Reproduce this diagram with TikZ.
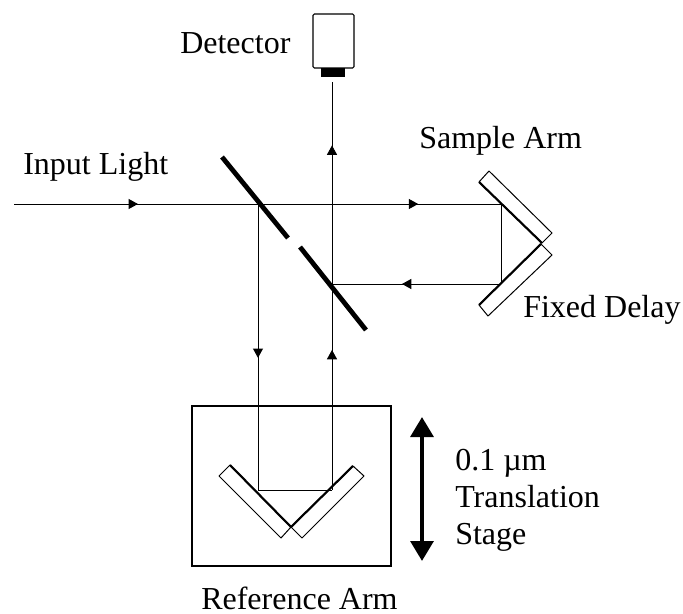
\documentclass[tikz,border=0pt]{standalone}
\usepackage{fontspec}
\setmainfont{Liberation Serif}
\usetikzlibrary{arrows.meta, decorations.markings}
\tikzset{
    beam/.style={line width=0.7pt},
    beamhead/.style={beam, postaction={decorate}, decoration={markings, mark=at position #1 with {\arrow{Stealth[length=7pt,width=7.5pt,inset=0pt]}}}},
    splitter/.style={line width=3.6pt},
    mirror/.style={line width=0.75pt, line join=round, fill=white},
    mirrorface/.style={line width=1.6pt},
    label/.style={font=\fontsize{24}{28}\selectfont, inner sep=0pt, anchor=base west}
}
\begin{document}
\begin{tikzpicture}[x=0.75pt, y=-0.75pt]
    \useasboundingbox (0,0) rectangle (683,614);

    % beam points
    \coordinate (in) at (14,204);
    \coordinate (bs) at (258,204);
    \coordinate (cross) at (332,204);
    \coordinate (sa) at (501,204);
    \coordinate (sb) at (501,284);
    \coordinate (bt) at (332,284);
    \coordinate (ra) at (258,490);
    \coordinate (rb) at (332,490);
    \coordinate (det) at (332,82);

    % translation stage
    \draw[line width=0.8pt] (192,406) rectangle (391,566);

    % mirrors
    \draw[mirror] (489,171) -- (479,182) -- (542,243) -- (552,233) -- cycle;
    \draw[mirror] (541,244) -- (552,255) -- (488,316) -- (479,305) -- cycle;
    \draw[mirrorface] (479,182) -- (542,243);
    \draw[mirrorface] (541,244) -- (479,305);
    \draw[mirror] (230,465) -- (219,476) -- (281,538) -- (291,527) -- cycle;
    \draw[mirror] (353,466) -- (364,476) -- (302,538) -- (291,527) -- cycle;
    \draw[mirrorface] (230,465) -- (291,527);
    \draw[mirrorface] (353,466) -- (291,527);

    % beams
    \draw[beamhead=0.508] (in) -- (bs);
    \draw[beamhead=0.51] (cross) -- (sa);
    \draw[beam] (bs) -- (cross);
    \draw[beam] (sa) -- (sb);
    \draw[beamhead=0.586] (sb) -- (bt);
    \draw[beamhead=0.538] (bs) -- (ra);
    \draw[beam] (ra) -- (rb);
    \draw[beamhead=0.68] (rb) -- (bt);
    \draw[beam] (bt) -- (cross);
    \draw[beamhead=0.48] (cross) -- (det);

    % beam splitter
    \draw[splitter] (222,157) -- (288,238);
    \draw[splitter] (300,247) -- (366,330);

    % detector
    \draw[line width=0.8pt, rounded corners=1pt] (313,14) rectangle (354,68);
    \fill (321,68) rectangle (345,77);

    % stage travel
    \coordinate (up) at (422,417);
    \coordinate (down) at (422,561);
    \draw[{Stealth[length=15pt,width=17pt,inset=0pt]}-{Stealth[length=15pt,width=17pt,inset=0pt]}, line width=3.2pt] (up) -- (down);

    % labels
    \node[label] (detector) at (180,53) {Detector};
    \node[label] (input) at (23,174) {Input Light};
    \node[label] (sample) at (419,148) {Sample Arm};
    \node[label] (fixed) at (523,317) {Fixed Delay};
    \node[label] (range) at (455,470) {0.1 µm};
    \node[label] (trans) at (455,507) {Translation};
    \node[label] (stage) at (455,544) {Stage};
    \node[label] (refarm) at (201,609) {Reference Arm};
\end{tikzpicture}
\end{document}
